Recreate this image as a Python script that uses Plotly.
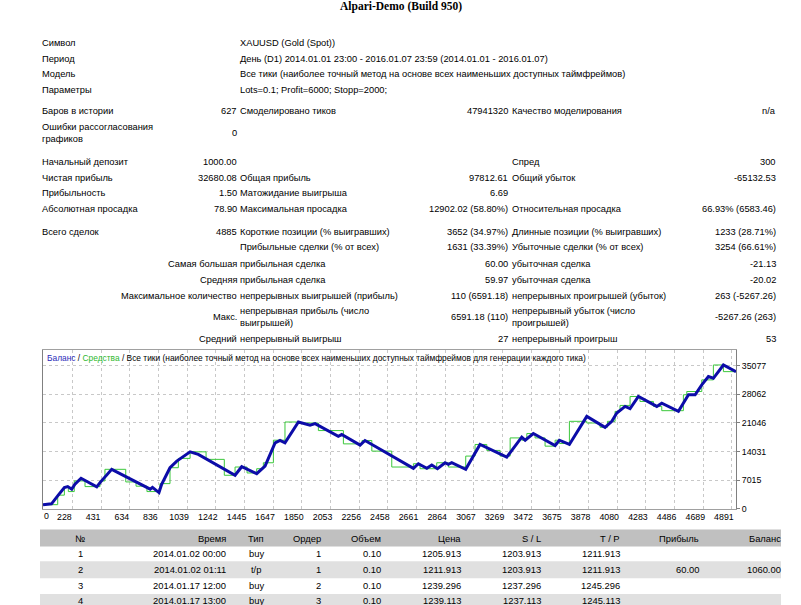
import plotly.graph_objects as go

W, H = 801, 605

# ---------------- chart data (trade number, money) ----------------
bal_trade = [20, 80, 128, 171, 195, 223, 246, 289, 400, 423,
             506, 778, 794, 840, 859, 918, 966, 1060, 1118, 1378,
             1425, 1531, 1590, 1661, 1696, 1731, 1826, 1908, 1944, 2108,
             2132, 2262, 2297, 2639, 2674, 2734, 2769, 2809, 2863, 2886,
             2910, 3009, 3110, 3299, 3405, 3429, 3487, 3641, 3671, 3742,
             3865, 3994, 4042, 4077, 4136, 4171, 4230, 4360, 4395, 4513,
             4584, 4631, 4678, 4725, 4760, 4831, 4920]
bal_value = [1000, 1200, 3337, 5189, 5432, 4799, 6017, 7479, 5359, 6407,
             9671, 4799, 5237, 3971, 6017, 10061, 11693, 13958, 13325, 8209,
             10304, 8599, 10475, 16151, 16736, 16151, 21266, 20462, 20876, 17783,
             18197, 15590, 16736, 9914, 11035, 9914, 10718, 9817, 11279, 10889,
             11279, 9671, 15761, 12667, 17539, 16808, 18440, 15517, 16808, 15761,
             22655, 19975, 21437, 23459, 25091, 24531, 27527, 25091, 25895, 23873,
             27941, 27941, 30377, 32399, 31985, 35249, 33617]

eq_trade = [20, 124, 171, 199, 241, 317, 423, 458, 605, 678,
            755, 847, 918, 977, 1060, 1173, 1302, 1378, 1463, 1531,
            1578, 1649, 1731, 1826, 1967, 2144, 2276, 2345, 2486, 2639,
            2686, 2804, 2886, 3009, 3075, 3158, 3252, 3323, 3405, 3441,
            3499, 3570, 3641, 3671, 3742, 3865, 3959, 4011, 4065, 4100,
            4171, 4241, 4336, 4395, 4548, 4572, 4678, 4760, 4831, 4920]
eq_value = [1000, 3337, 5432, 4214, 6821, 5432, 6821, 9671, 6577, 5530,
            4214, 6163, 10061, 12351, 13958, 12107, 8209, 10231, 8770, 9817,
            11279, 16808, 21266, 21022, 19171, 15907, 16736, 14129, 10231, 11035,
            9817, 11279, 10231, 12911, 15761, 14299, 12911, 17369, 16808, 18440,
            17369, 15347, 16808, 16004, 21437, 21022, 19975, 21437, 23873, 25334,
            27527, 26309, 25091, 24044, 27941, 28745, 31595, 35249, 33617, 33617]

x_ticks = [228, 431, 634, 836, 1039, 1242, 1445, 1647, 1850, 2053, 2256, 2458,
           2661, 2864, 3067, 3269, 3472, 3675, 3878, 4080, 4283, 4486, 4689, 4891]
y_ticks = [0, 7015, 14031, 21046, 28062, 35077]

# ---------------- report texts ----------------
title = "Alpari-Demo (Build 950)"
head_labels = ["Символ", "Период", "Модель", "Параметры"]
head_values = ["XAUUSD (Gold (Spot))",
               "День (D1) 2014.01.01 23:00 - 2016.01.07 23:59 (2014.01.01 - 2016.01.07)",
               "Все тики (наиболее точный метод на основе всех наименьших доступных таймфреймов)",
               "Lots=0.1; Profit=6000; Stopp=2000;"]

stat_rows = [
    ("Баров в истории", "627", "Смоделировано тиков", "47941320", "Качество моделирования", "n/a"),
    ("Ошибки рассогласования<br>графиков", "0", "", "", "", ""),
    ("Начальный депозит", "1000.00", "", "", "Спред", "300"),
    ("Чистая прибыль", "32680.08", "Общая прибыль", "97812.61", "Общий убыток", "-65132.53"),
    ("Прибыльность", "1.50", "Матожидание выигрыша", "6.69", "", ""),
    ("Абсолютная просадка", "78.90", "Максимальная просадка", "12902.02 (58.80%)",
     "Относительная просадка", "66.93% (6583.46)"),
    ("Всего сделок", "4885", "Короткие позиции (% выигравших)", "3652 (34.97%)",
     "Длинные позиции (% выигравших)", "1233 (28.71%)"),
    ("", "", "Прибыльные сделки (% от всех)", "1631 (33.39%)",
     "Убыточные сделки (% от всех)", "3254 (66.61%)"),
]
stat_rows_r = [
    ("Самая большая", "прибыльная сделка", "60.00", "убыточная сделка", "-21.13"),
    ("Средняя", "прибыльная сделка", "59.97", "убыточная сделка", "-20.02"),
    ("Максимальное количество", "непрерывных выигрышей (прибыль)", "110 (6591.18)",
     "непрерывных проигрышей (убыток)", "263 (-5267.26)"),
    ("Макс.", "непрерывная прибыль (число<br>выигрышей)", "6591.18 (110)",
     "непрерывный убыток (число<br>проигрышей)", "-5267.26 (263)"),
    ("Средний", "непрерывный выигрыш", "27", "непрерывный проигрыш", "53"),
]

tbl_header = ["№", "Время", "Тип", "Ордер", "Объем", "Цена", "S / L", "T / P", "Прибыль", "Баланс"]
tbl_rows = [
    ["1", "2014.01.02 00:00", "buy", "1", "0.10", "1205.913", "1203.913", "1211.913", "", ""],
    ["2", "2014.01.02 01:11", "t/p", "1", "0.10", "1211.913", "1203.913", "1211.913", "60.00", "1060.00"],
    ["3", "2014.01.17 12:00", "buy", "2", "0.10", "1239.296", "1237.296", "1245.296", "", ""],
    ["4", "2014.01.17 13:00", "buy", "3", "0.10", "1239.113", "1237.113", "1245.113", "", ""],
]

# ---------------- layout helpers ----------------
FONT = "Liberation Sans"
FS = 9.3
anns = []
shapes = []


def X(px):
    return px / W


def Y(py):
    return 1 - py / H


def txt(s, x, y, anchor="left", size=FS, family=FONT, color="#000"):
    if not s:
        return
    anns.append(dict(text=s, x=X(x), y=Y(y), xref="paper", yref="paper",
                     xanchor=anchor, yanchor="middle", align=anchor, showarrow=False,
                     borderpad=0, borderwidth=0,
                     font=dict(family=family, size=size, color=color)))


def rect(x0, y0, x1, y1, color):
    shapes.append(dict(type="rect", xref="paper", yref="paper", x0=X(x0), x1=X(x1),
                       y0=Y(y1), y1=Y(y0), fillcolor=color, line=dict(width=0), layer="below"))


txt("<b>" + title + "</b>", 400.5, 6.5, "center", 11.5, "Liberation Serif")

for i, (lab, val) in enumerate(zip(head_labels, head_values)):
    yy = 43 + i * 16
    txt(lab, 42, yy)
    txt(val, 240, yy)

stat_y = [112, 134, 163, 179, 194.5, 211, 234, 249.5]
for yy, row in zip(stat_y, stat_rows):
    l1, v1, l2, v2, l3, v3 = row
    txt(l1, 42, yy)
    txt(v1, 237, yy, "right")
    txt(l2, 240, yy)
    txt(v2, 508, yy, "right")
    txt(l3, 512, yy)
    txt(v3, 776, yy, "right")

stat_y_r = [266, 282, 298, 320, 342]
for yy, row in zip(stat_y_r, stat_rows_r):
    l1, l2, v2, l3, v3 = row
    txt(l1, 237, yy, "right")
    txt(l2, 240, yy)
    txt(v2, 508, yy, "right")
    txt(l3, 512, yy)
    txt(v3, 776, yy, "right")

txt('<span style="color:#2a2ab8">Баланс</span> / <span style="color:#2db82d">Средства</span> / '
    'Все тики (наиболее точный метод на основе всех наименьших доступных таймфреймов для генерации каждого тика)',
    47, 360.5, "left", 8.4)
txt("0", 46, 520.7, "center", 8.8)

rect(40, 534, 781, 551, "#c0c0c0")
rect(40, 566, 781, 583, "#e0e0e0")
rect(40, 599, 781, 616, "#e0e0e0")
col_x = [80, 226, 256, 321, 381, 461.5, 540.5, 620, 698.5, 780.5]
col_a = ["center", "right", "center", "right", "right", "right", "right", "right", "right", "right"]
for s, xx, a in zip(tbl_header, col_x, col_a):
    txt(s, xx, 542.7, a, 9.4)
for r, yy in zip(tbl_rows, [558.3, 574.5, 590.7, 606]):
    for s, xx, a in zip(r, col_x, col_a):
        txt(s, xx, yy, a, 9.4)

fig = go.Figure()
fig.add_trace(go.Scatter(x=eq_trade, y=eq_value, mode="lines",
                         line=dict(color="#3cc83c", width=1, shape="hv"), hoverinfo="skip"))
fig.add_trace(go.Scatter(x=bal_trade, y=bal_value, mode="lines",
                         line=dict(color="#0c0ca8", width=3), hoverinfo="skip"))

fig.update_layout(
    width=W, height=H, autosize=False,
    margin=dict(l=0, r=0, t=0, b=0),
    paper_bgcolor="white", plot_bgcolor="white",
    showlegend=False,
    annotations=anns, shapes=shapes,
    xaxis=dict(domain=[X(43), X(736)], range=[20, 4920],
               tickmode="array", tickvals=x_ticks, ticktext=[str(v) for v in x_ticks],
               showgrid=True, gridcolor="#c8c8c8", griddash="3px,3px", gridwidth=1,
               showline=True, mirror=True, linecolor="#a0a0a0", linewidth=1,
               zeroline=False, ticks="", ticklabelshift=-8,
               tickfont=dict(family=FONT, size=8.8, color="#000"), fixedrange=True),
    yaxis=dict(domain=[Y(513), Y(353)], range=[0, 38900], side="right",
               tickmode="array", tickvals=y_ticks, ticktext=[str(v) for v in y_ticks],
               showgrid=True, gridcolor="#c8c8c8", griddash="3px,3px", gridwidth=1,
               showline=True, mirror=True, linecolor="#808080", linewidth=1,
               zeroline=False, ticks="outside", ticklen=3, tickcolor="#808080",
               tickfont=dict(family=FONT, size=8.8, color="#000"), fixedrange=True),
)

fig.write_html("out.html", config={"displayModeBar": False, "staticPlot": True})
